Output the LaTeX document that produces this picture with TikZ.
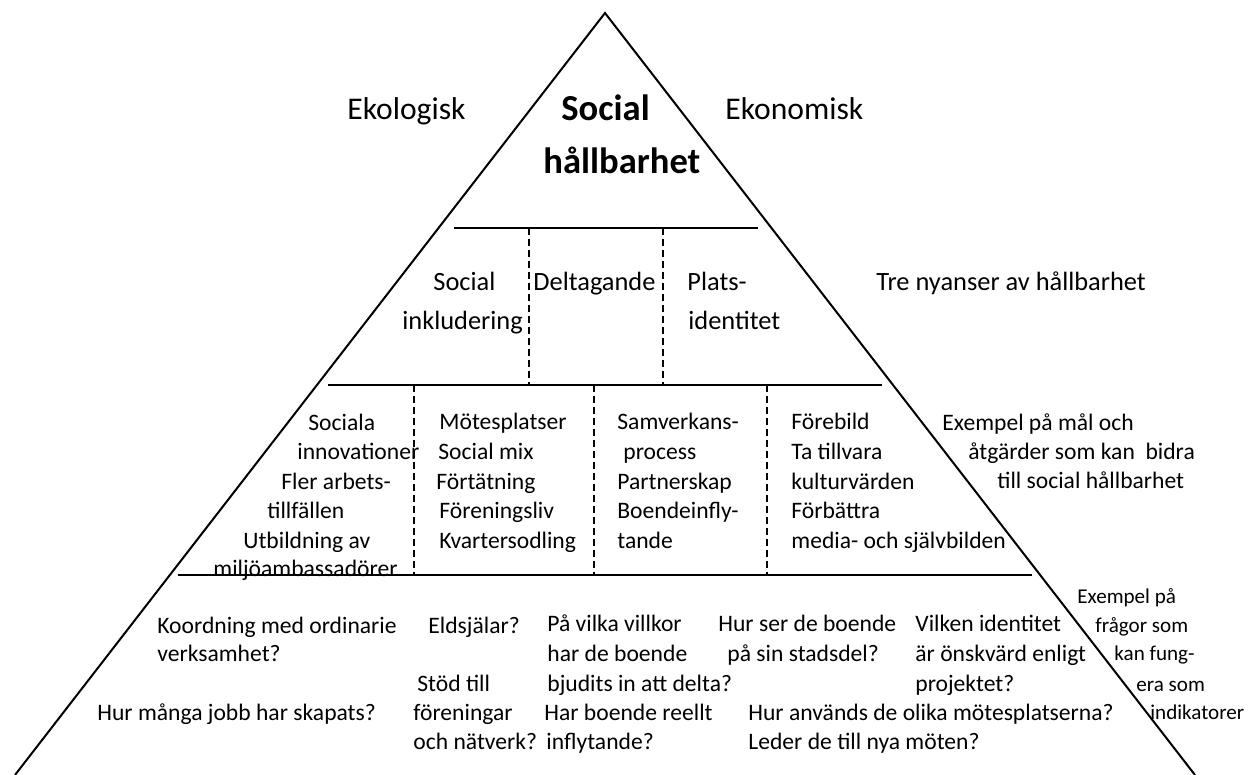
\documentclass[tikz,border=0pt]{standalone}
\usepackage{fontspec}
\setmainfont{Carlito}
\begin{document}
\begin{tikzpicture}[x=0.5pt, y=-0.5pt,
    txt/.style={inner sep=0pt, anchor=base west, font=\fontsize{11.8}{14}\selectfont},
    small/.style={txt, font=\fontsize{10.55}{13}\selectfont},
    mid/.style={txt, font=\fontsize{13.2}{16}\selectfont},
    big/.style={txt, font=\fontsize{15.8}{19}\selectfont},
    title/.style={txt, font=\bfseries\fontsize{18.3}{22}\selectfont},
    sep/.style={line width=0.9pt},
    col/.style={line width=0.8pt, dash pattern=on 3.5pt off 2pt}]
    \useasboundingbox (0,0) rectangle (1250,775);
    % pyramid
    \coordinate (apex) at (605,13);
    \coordinate (bl) at (15,775);
    \coordinate (br) at (1195,775);
    \draw[line width=1pt] (bl) -- (apex) -- (br);
    \draw[sep] (454,228) -- (758,228);
    \draw[sep] (328,385) -- (882,385);
    \draw[sep] (178,575) -- (1032,575);
    \draw[col] (529,228) -- (529,385);
    \draw[col] (663,228) -- (663,385);
    \draw[col] (414,385) -- (414,575);
    \draw[col] (594,385) -- (594,575);
    \draw[col] (767,385) -- (767,575);
    % top
    \node[big] (ekol) at (347,120) {Ekologisk};
    \node[title] (soc) at (561,121) {Social};
    \node[title] (hall) at (543,174) {hållbarhet};
    \node[big] (ekon) at (725,120) {Ekonomisk};
    % three shades
    \node[mid] (inkl1) at (433,291) {Social};
    \node[mid] (inkl2) at (402,330) {inkludering};
    \node[mid] (delt) at (533,291) {Deltagande};
    \node[mid] (plats1) at (687,291) {Plats-};
    \node[mid] (plats2) at (688,330) {identitet};
    \node[mid] (nyans) at (876,291) {Tre nyanser av hållbarhet};
    % examples
    \node[txt] (a1) at (308,431) {Sociala};
    \node[txt] (a2) at (297,460) {innovationer};
    \node[txt] (a3) at (281,490) {Fler arbets-};
    \node[txt] (a4) at (267,519) {tillfällen};
    \node[txt] (a5) at (243,549) {Utbildning av};
    \node[txt] (a6) at (213,577) {miljöambassadörer};
    \node[txt] (b1) at (439,430) {Mötesplatser};
    \node[txt] (b2) at (438,460) {Social mix};
    \node[txt] (b3) at (436,490) {Förtätning};
    \node[txt] (b4) at (439,519) {Föreningsliv};
    \node[txt] (b5) at (439,549) {Kvartersodling};
    \node[txt] (c1) at (617,430) {Samverkans-};
    \node[txt] (c2) at (623,460) {process};
    \node[txt] (c3) at (617,490) {Partnerskap};
    \node[txt] (c4) at (617,519) {Boendeinfly-};
    \node[txt] (c5) at (617,549) {tande};
    \node[txt] (d1) at (791,430) {Förebild};
    \node[txt] (d2) at (791,460) {Ta tillvara};
    \node[txt] (d3) at (791,490) {kulturvärden};
    \node[txt] (d4) at (791,519) {Förbättra};
    \node[txt] (d5) at (791,549) {media- och självbilden};
    \node[txt] (mal1) at (942,431) {Exempel på mål och};
    \node[txt] (mal2) at (968,460) {åtgärder som kan\ \ bidra};
    \node[txt] (mal3) at (997,489) {till social hållbarhet};
    % questions
    \node[txt] (q1) at (157,634) {Koordning med ordinarie};
    \node[txt] (q2) at (157,662) {verksamhet?};
    \node[txt] (q3) at (97,720) {Hur många jobb har skapats?};
    \node[txt] (q4) at (428,634) {Eldsjälar?};
    \node[txt] (q5) at (417,692) {Stöd till};
    \node[txt] (q6) at (413,720) {föreningar};
    \node[txt] (q7) at (413,749) {och nätverk?};
    \node[txt] (q8) at (547,632) {På vilka villkor};
    \node[txt] (q9) at (547,662) {har de boende};
    \node[txt] (q10) at (547,692) {bjudits in att delta?};
    \node[txt] (q11) at (544,720) {Har boende reellt};
    \node[txt] (q12) at (546,749) {inflytande?};
    \node[txt] (q13) at (718,632) {Hur ser de boende};
    \node[txt] (q14) at (727,662) {på sin stadsdel?};
    \node[txt] (q15) at (748,720) {Hur används de olika mötesplatserna?};
    \node[txt] (q16) at (748,749) {Leder de till nya möten?};
    \node[txt] (q17) at (915,632) {Vilken identitet};
    \node[txt] (q18) at (915,662) {är önskvärd enligt};
    \node[txt] (q19) at (915,692) {projektet?};
    \node[small] (ind1) at (1077,604) {Exempel på};
    \node[small] (ind2) at (1095,633) {frågor som};
    \node[small] (ind3) at (1114,661) {kan fung-};
    \node[small] (ind4) at (1136,691) {era som};
    \node[small] (ind5) at (1150,719) {indikatorer};
\end{tikzpicture}
\end{document}
